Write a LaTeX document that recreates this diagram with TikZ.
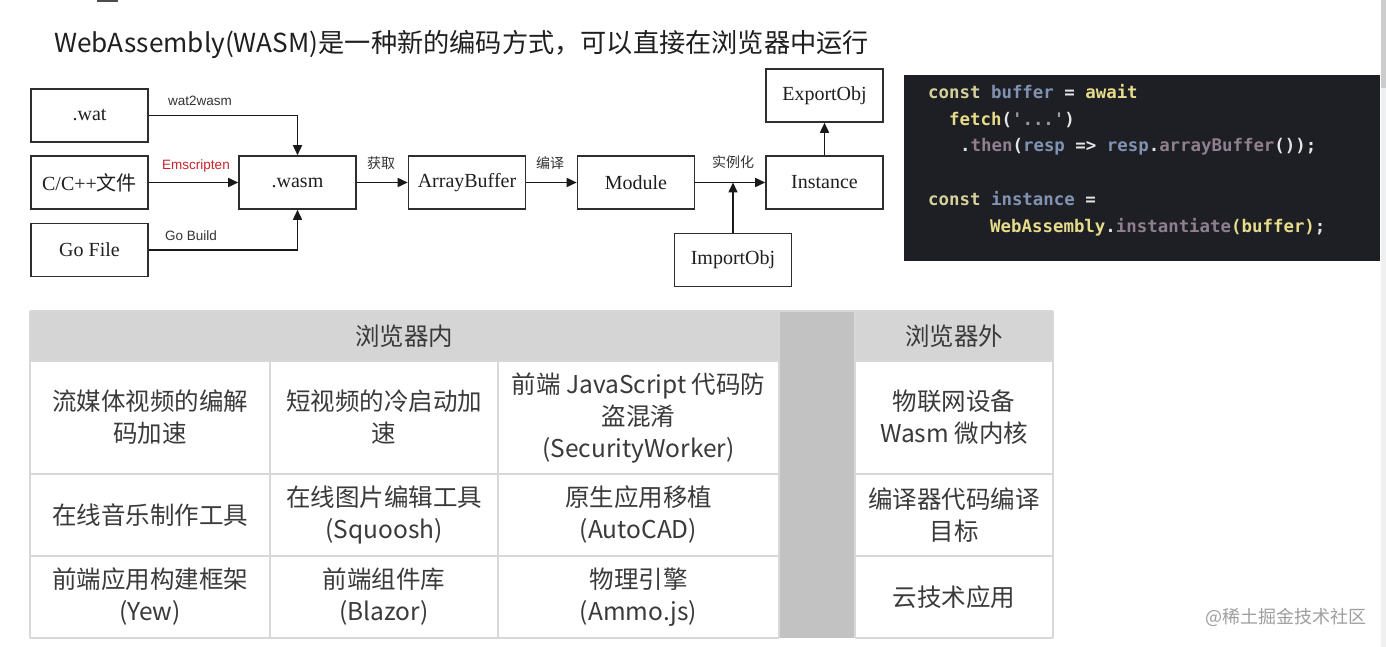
\documentclass[tikz,border=0pt]{standalone}
\usepackage{fontspec}
\setmainfont{Liberation Serif}
\newfontfamily\cjkf{Noto Sans CJK SC}
\newfontfamily\codef{DejaVu Sans Mono}
\newfontfamily\arialf{Liberation Sans}
\usetikzlibrary{arrows.meta}
\definecolor{codebg}{HTML}{1E1F24}
\definecolor{ckwc}{HTML}{D6D09C}
\definecolor{cvrc}{HTML}{8193B2}
\definecolor{cfnc}{HTML}{E6DC8A}
\definecolor{cmec}{HTML}{907F8E}
\definecolor{cpuc}{HTML}{E4E4E4}
\definecolor{cstc}{HTML}{9A9AA2}
\definecolor{boxc}{HTML}{2E2E2E}
\definecolor{tabtext}{HTML}{3A3A3A}
\definecolor{headc}{HTML}{D5D5D5}
\definecolor{sepc}{HTML}{C2C2C2}
\definecolor{gridc}{HTML}{D8D8D8}
\definecolor{emred}{HTML}{C8232C}
\newcommand\ckw[1]{\textcolor{ckwc}{#1}}
\newcommand\cvr[1]{\textcolor{cvrc}{#1}}
\newcommand\cfn[1]{\textcolor{cfnc}{#1}}
\newcommand\cme[1]{\textcolor{cmec}{#1}}
\newcommand\cpu[1]{\textcolor{cpuc}{#1}}
\newcommand\cst[1]{\textcolor{cstc}{#1}}
\begin{document}
\begin{tikzpicture}[x=1pt,y=-1pt,
  box/.style={draw=boxc, line width=1.6pt, minimum width=117pt, minimum height=53pt, inner sep=0pt, font=\fontsize{20}{23}\selectfont, text=black!88},
  arr/.style={line width=1.6pt, draw=black!90, -{Triangle[length=10pt,width=9pt]}},
  elab/.style={inner sep=0pt, font=\arialf\fontsize{13.5}{15}\selectfont, text=black!80},
  clab/.style={inner sep=0pt, font=\cjkf\fontsize{14}{16}\selectfont, text=black!80},
  cell/.style={inner sep=0pt, font=\cjkf\fontsize{24.5}{32}\selectfont, align=center, text=tabtext},
  codeln/.style={anchor=base west, inner sep=0pt, font=\codef\bfseries\fontsize{17.4}{20}\selectfont}]
\useasboundingbox (0,0) rectangle (1386,647);
\fill[white] (0,0) rectangle (1386,647);
% scrollbar and top remnant
\fill[black!6] (1381,0) rectangle (1386,647);
\fill[black!20] (1381,0) rectangle (1386,88);
\fill[black!70] (97,0) rectangle (118,2);

% title
\node[anchor=west, inner sep=0pt, font=\cjkf\fontsize{26.2}{30}\selectfont, text=black!88] (title) at (54,44) {WebAssembly(WASM)是一种新的编码方式，可以直接在浏览器中运行};

% flow boxes
\node[box] (wat) at (89.5,115.5) {.wat};
\node[box] (cpp) at (89.5,182.5) {C/C++{\cjkf 文件}};
\node[box] (go) at (89.5,250) {Go File};
\node[box] (wasm) at (297.5,182.5) {.wasm};
\node[box] (ab) at (467,182.5) {ArrayBuffer};
\node[box] (mod) at (636,182.5) {Module};
\node[box] (inst) at (824.5,182.5) {Instance};
\node[box] (exp) at (824.5,95.5) {ExportObj};
\node[box] (imp) at (733,260) {ImportObj};

\draw[arr] (wat.east) -| (wasm.north);
\draw[arr] (cpp) -- (wasm);
\draw[arr] (go.east) -| (wasm.south);
\draw[arr] (wasm) -- (ab);
\draw[arr] (ab) -- (mod);
\draw[arr] (mod) -- (inst);
\draw[arr] (imp.north) -- (imp.north |- mod.east);
\draw[arr] (inst) -- (exp);

\node[elab] (l1) at (200,101) {wat2wasm};
\node[elab, text=emred] (l2) at (196,166) {Emscripten};
\node[elab] (l3) at (191,236) {Go Build};
\node[clab] (l4) at (381,163) {获取};
\node[clab] (l5) at (550,163) {编译};
\node[clab] (l6) at (733,162) {实例化};

% code block
\fill[codebg] (904,75) rectangle (1380,261);
\node[codeln] (c1) at (928,99) {\ckw{const} \cvr{buffer} \cpu{=} \cfn{await}};
\node[codeln] (c2) at (949,126) {\cfn{fetch}\cpu{(}\cst{\symbol{39}...\symbol{39}}\cpu{)}};
\node[codeln] (c3) at (960,152) {\cpu{.}\cme{then}\cpu{(}\cvr{resp} \cpu{=>} \cvr{resp}\cpu{.}\cme{arrayBuffer}\cpu{());}};
\node[codeln] (c4) at (928,205) {\ckw{const} \cvr{instance} \cpu{=}};
\node[codeln] (c5) at (990,232) {\cfn{WebAssembly}\cpu{.}\cme{instantiate}\cfn{(buffer)}\cpu{;}};

% table
\fill[headc] (30,311) rectangle (779,361);
\fill[headc] (855,311) rectangle (1053,361);
\fill[sepc] (779,311) rectangle (855,638);
\begin{scope}[draw=gridc, line width=1.5pt]
\draw (30,311) -- (1053,311);
\draw (30,361) -- (779,361) (855,361) -- (1053,361);
\draw (30,474) -- (779,474) (855,474) -- (1053,474);
\draw (30,556) -- (779,556) (855,556) -- (1053,556);
\draw (30,638) -- (779,638) (855,638) -- (1053,638);
\draw (30,311) -- (30,638);
\draw (270,361) -- (270,638);
\draw (498,361) -- (498,638);
\draw (779,311) -- (779,638);
\draw (855,311) -- (855,638);
\draw (1053,311) -- (1053,638);
\end{scope}

\node[cell] (h1) at (404,336) {浏览器内};
\node[cell] (h2) at (954,336) {浏览器外};
\node[cell] (a1) at (150,417.5) {流媒体视频的编解\\码加速};
\node[cell] (a2) at (384,417.5) {短视频的冷启动加\\速};
\node[cell] (a3) at (638.5,418) {前端 JavaScript 代码防\\盗混淆\\(SecurityWorker)};
\node[cell] (a4) at (954,417.5) {物联网设备\\Wasm 微内核};
\node[cell] (b1) at (150,515) {在线音乐制作工具};
\node[cell] (b2) at (384,515) {在线图片编辑工具\\(Squoosh)};
\node[cell] (b3) at (638.5,515) {原生应用移植\\(AutoCAD)};
\node[cell] (b4) at (954,515) {编译器代码编译\\目标};
\node[cell] (d1) at (150,597) {前端应用构建框架\\(Yew)};
\node[cell] (d2) at (384,597) {前端组件库\\(Blazor)};
\node[cell] (d3) at (638.5,597) {物理引擎\\(Ammo.js)};
\node[cell] (d4) at (954,597) {云技术应用};

% watermark
\node[inner sep=0pt, font=\cjkf\fontsize{18}{20}\selectfont, text=black!38] (wm) at (1286,617) {@稀土掘金技术社区};
\end{tikzpicture}
\end{document}
